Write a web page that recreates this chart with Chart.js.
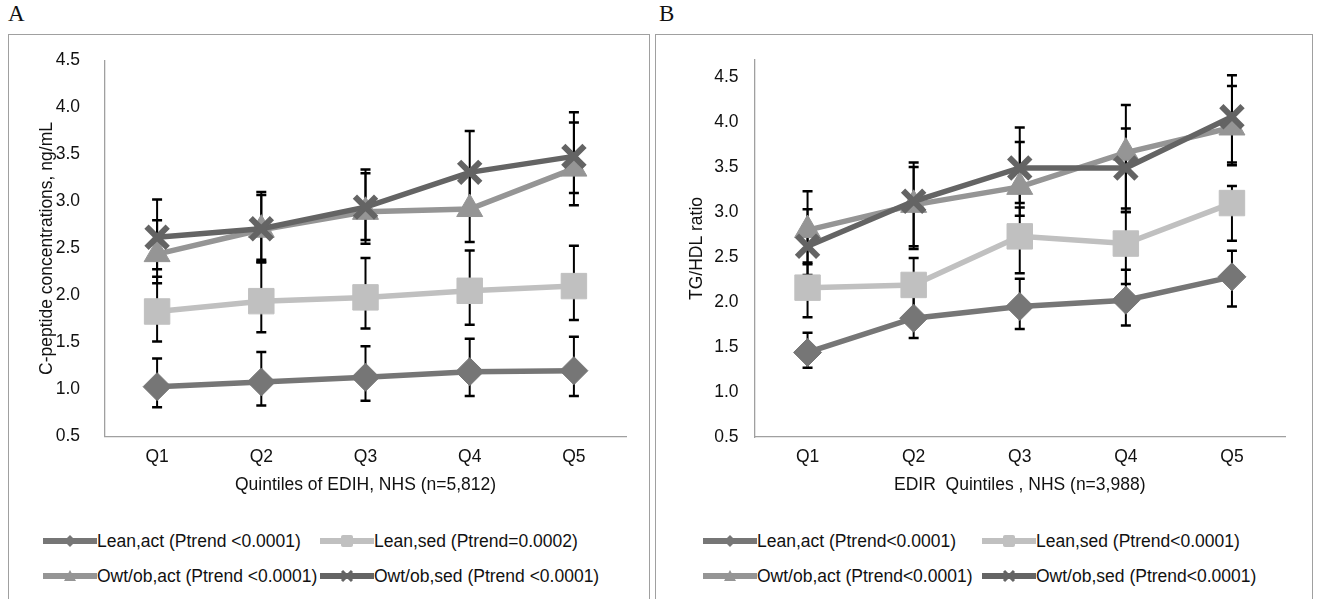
<!DOCTYPE html>
<html lang="en">
<head>
<meta charset="UTF-8">
<title>C-peptide and TG/HDL by dietary index quintiles</title>
<style>
    body {
        margin: 0;
        width: 1318px;
        height: 599px;
        background: #fff;
        position: relative;
        overflow: hidden;
        font-family: "Liberation Sans", Arial, sans-serif;
    }
    .frame {
        position: absolute;
        border: 1px solid #a0a0a0;
    }
    .panel-label {
        position: absolute;
        font-family: "Liberation Serif", "Times New Roman", serif;
        font-size: 23px;
        color: #111;
    }
    canvas {
        position: absolute;
    }
    .legend-item {
        position: absolute;
        display: flex;
        align-items: center;
        height: 24px;
        font-size: 17.5px;
        color: #111;
        white-space: nowrap;
    }
    .legend-item svg {
        display: block;
    }
</style>
</head>
<body>
    <div class="frame" style="left:8px;top:34px;width:640px;height:600px"></div>
    <div class="frame" style="left:655px;top:34px;width:656px;height:600px"></div>
    <div class="panel-label" style="left:8px;top:1px">A</div>
    <div class="panel-label" style="left:659px;top:1px">B</div>

    <canvas id="chartA" width="638" height="470" style="left:9px;top:35px"></canvas>
    <canvas id="chartB" width="650" height="470" style="left:656px;top:35px"></canvas>
    <div id="legendA"></div>
    <div id="legendB"></div>

    <script src="https://cdn.jsdelivr.net/npm/chart.js"></script>
    <script>
        const categories = ['Q1', 'Q2', 'Q3', 'Q4', 'Q5'];
        const yTickValues = [0.5, 1.0, 1.5, 2.0, 2.5, 3.0, 3.5, 4.0, 4.5];

        // Panel A: C-peptide by EDIH quintiles
        const namesA = ['Lean,act (Ptrend <0.0001)', 'Lean,sed (Ptrend=0.0002)',
                        'Owt/ob,act (Ptrend <0.0001)', 'Owt/ob,sed (Ptrend <0.0001)'];
        const leanActA    = [1.03, 1.08, 1.13, 1.19, 1.20];
        const leanActA_lo = [0.81, 0.83, 0.88, 0.93, 0.93];
        const leanActA_hi = [1.33, 1.40, 1.46, 1.54, 1.56];
        const leanSedA    = [1.83, 1.94, 1.98, 2.05, 2.10];
        const leanSedA_lo = [1.51, 1.61, 1.65, 1.69, 1.74];
        const leanSedA_hi = [2.20, 2.35, 2.40, 2.48, 2.53];
        const owtActA     = [2.44, 2.70, 2.89, 2.92, 3.35];
        const owtActA_lo  = [2.13, 2.38, 2.55, 2.57, 2.96];
        const owtActA_hi  = [2.80, 3.07, 3.30, 3.30, 3.84];
        const owtSedA     = [2.62, 2.71, 2.94, 3.31, 3.48];
        const owtSedA_lo  = [2.28, 2.36, 2.59, 2.95, 3.09];
        const owtSedA_hi  = [3.02, 3.10, 3.34, 3.75, 3.95];

        // Panel B: TG/HDL ratio by EDIR quintiles
        const namesB = ['Lean,act (Ptrend<0.0001)', 'Lean,sed (Ptrend<0.0001)',
                        'Owt/ob,act (Ptrend<0.0001)', 'Owt/ob,sed (Ptrend<0.0001)'];
        const leanActB    = [1.44, 1.82, 1.95, 2.02, 2.28];
        const leanActB_lo = [1.27, 1.60, 1.70, 1.74, 1.95];
        const leanActB_hi = [1.66, 2.08, 2.26, 2.36, 2.57];
        const leanSedB    = [2.16, 2.19, 2.73, 2.65, 3.10];
        const leanSedB_lo = [1.83, 1.86, 2.32, 2.20, 2.68];
        const leanSedB_hi = [2.44, 2.49, 3.05, 3.00, 3.29];
        const owtActB     = [2.80, 3.08, 3.28, 3.66, 3.94];
        const owtActB_lo  = [2.42, 2.59, 2.96, 3.00, 3.52];
        const owtActB_hi  = [3.23, 3.50, 3.78, 4.19, 4.40];
        const owtSedB     = [2.62, 3.12, 3.49, 3.49, 4.06];
        const owtSedB_lo  = [2.30, 2.62, 3.10, 3.04, 3.55];
        const owtSedB_hi  = [3.03, 3.55, 3.94, 3.93, 4.52];

        const seriesColors = ['#767676', '#c0c0c0', '#959595', '#646464'];
        const seriesShapes = ['rectRot', 'rect', 'triangle', 'crossRot'];
        const pointRadii = [14, 18, 15, 15];
        const textColor = '#111';
        const axisColor = '#a0a0a0';
        const fontFamily = '"Liberation Sans", Arial, sans-serif';

        // vertical error bars with caps, drawn under the lines
        const errorBars = {
            id: 'errorBars',
            beforeDatasetsDraw(chart) {
                const ctx = chart.ctx;
                const y = chart.scales.y;
                ctx.save();
                ctx.strokeStyle = '#000';
                chart.data.datasets.forEach((ds, i) => {
                    const meta = chart.getDatasetMeta(i);
                    meta.data.forEach((pt, j) => {
                        const top = y.getPixelForValue(ds.errHi[j]);
                        const bot = y.getPixelForValue(ds.errLo[j]);
                        ctx.lineWidth = 2;
                        ctx.beginPath();
                        ctx.moveTo(pt.x, top);
                        ctx.lineTo(pt.x, bot);
                        ctx.stroke();
                        ctx.lineWidth = 2.5;
                        ctx.beginPath();
                        ctx.moveTo(pt.x - 5, top);
                        ctx.lineTo(pt.x + 5, top);
                        ctx.moveTo(pt.x - 5, bot);
                        ctx.lineTo(pt.x + 5, bot);
                        ctx.stroke();
                    });
                });
                ctx.restore();
            }
        };

        function makeDatasets(names, values, lows, highs) {
            return names.map((name, i) => ({
                label: name,
                data: values[i],
                errLo: lows[i],
                errHi: highs[i],
                borderColor: seriesColors[i],
                backgroundColor: seriesColors[i],
                borderWidth: 5.5,
                pointStyle: seriesShapes[i],
                pointRadius: pointRadii[i],
                pointBorderWidth: i === 3 ? 6 : 1,
                tension: 0,
                order: names.length - 1 - i
            }));
        }

        function makeChart(id, cfg) {
            return new Chart(document.getElementById(id), {
                type: 'line',
                data: {
                    labels: categories,
                    datasets: makeDatasets(cfg.names, cfg.values, cfg.lows, cfg.highs)
                },
                options: {
                    responsive: false,
                    animation: false,
                    events: [],
                    layout: { padding: { left: 0, top: cfg.padTop, right: cfg.padRight, bottom: 0 } },
                    plugins: { legend: { display: false }, tooltip: { enabled: false } },
                    scales: {
                        x: {
                            offset: true,
                            grid: { display: false, drawTicks: false },
                            border: { color: axisColor, width: 1.3 },
                            ticks: { color: textColor, padding: 10, font: { family: fontFamily, size: 17.5 } },
                            title: {
                                display: true, text: cfg.xTitle, color: textColor,
                                padding: { top: 0, bottom: 9.5 },
                                font: { family: fontFamily, size: 17.5 }
                            },
                            afterFit: (s) => { s.height = cfg.xHeight; }
                        },
                        y: {
                            min: 0.5,
                            max: cfg.yMax,
                            grid: { display: false, drawTicks: false },
                            border: { color: axisColor, width: 1.3 },
                            afterBuildTicks: (s) => { s.ticks = yTickValues.map(v => ({ value: v })); },
                            ticks: {
                                color: textColor, padding: cfg.yTickPad,
                                font: { family: fontFamily, size: 17.5 },
                                callback: (v) => Number(v).toFixed(1)
                            },
                            title: {
                                display: true, text: cfg.yTitle, color: textColor,
                                padding: { top: cfg.yTitlePad, bottom: 0 },
                                font: { family: fontFamily, size: 17.5 }
                            },
                            // fixed axis width; the tick padding must not push the plot top down
                            afterFit: (s) => {
                                s.width = cfg.yWidth;
                                s.paddingTop = 0;
                                s.paddingBottom = 0;
                            }
                        }
                    }
                },
                plugins: [errorBars]
            });
        }

        makeChart('chartA', {
            names: namesA,
            values: [leanActA, leanSedA, owtActA, owtSedA],
            lows: [leanActA_lo, leanSedA_lo, owtActA_lo, owtSedA_lo],
            highs: [leanActA_hi, leanSedA_hi, owtActA_hi, owtSedA_hi],
            xTitle: 'Quintiles of EDIH, NHS (n=5,812)',
            yTitle: 'C-peptide concentrations, ng/mL',
            yMax: 4.5, padTop: 25.5, padRight: 17.5, xHeight: 68.5,
            yWidth: 96, yTickPad: 25, yTitlePad: 27.5
        });

        makeChart('chartB', {
            names: namesB,
            values: [leanActB, leanSedB, owtActB, owtSedB],
            lows: [leanActB_lo, leanSedB_lo, owtActB_lo, owtSedB_lo],
            highs: [leanActB_hi, leanSedB_hi, owtActB_hi, owtSedB_hi],
            xTitle: 'EDIR  Quintiles , NHS (n=3,988)',
            yTitle: 'TG/HDL ratio',
            yMax: 4.69, padTop: 25, padRight: 19, xHeight: 68,
            yWidth: 98.5, yTickPad: 16, yTitlePad: 30.5
        });

        // legend: line sample with marker, then text, in two columns
        function sampleSvg(i) {
            const c = seriesColors[i];
            const cx = 27, cy = 8;
            let m = '';
            if (i === 0) m = `<polygon points="${cx - 6},${cy} ${cx},${cy - 6} ${cx + 6},${cy} ${cx},${cy + 6}" fill="${c}"/>`;
            if (i === 1) m = `<rect x="${cx - 6}" y="${cy - 6}" width="12" height="12" rx="2" fill="${c}"/>`;
            if (i === 2) m = `<polygon points="${cx - 6},${cy + 5} ${cx},${cy - 6} ${cx + 6},${cy + 5}" fill="${c}"/>`;
            if (i === 3) m = `<path d="M${cx - 5} ${cy - 5}L${cx + 5} ${cy + 5}M${cx + 5} ${cy - 5}L${cx - 5} ${cy + 5}" stroke="${c}" stroke-width="3"/>`;
            return `<svg width="54" height="16"><line x1="0" y1="${cy}" x2="54" y2="${cy}" stroke="${c}" stroke-width="6"/>${m}</svg>`;
        }

        function buildLegend(id, names, cols, rows) {
            const el = document.getElementById(id);
            names.forEach((name, i) => {
                const item = document.createElement('div');
                item.className = 'legend-item';
                item.style.left = cols[i % 2] + 'px';
                item.style.top = (rows[Math.floor(i / 2)] - 12) + 'px';
                item.innerHTML = sampleSvg(i) + '<span>' + name + '</span>';
                el.appendChild(item);
            });
        }

        buildLegend('legendA', namesA, [43, 320], [541, 576]);
        buildLegend('legendB', namesB, [703, 982], [541, 576]);
    </script>
</body>
</html>
